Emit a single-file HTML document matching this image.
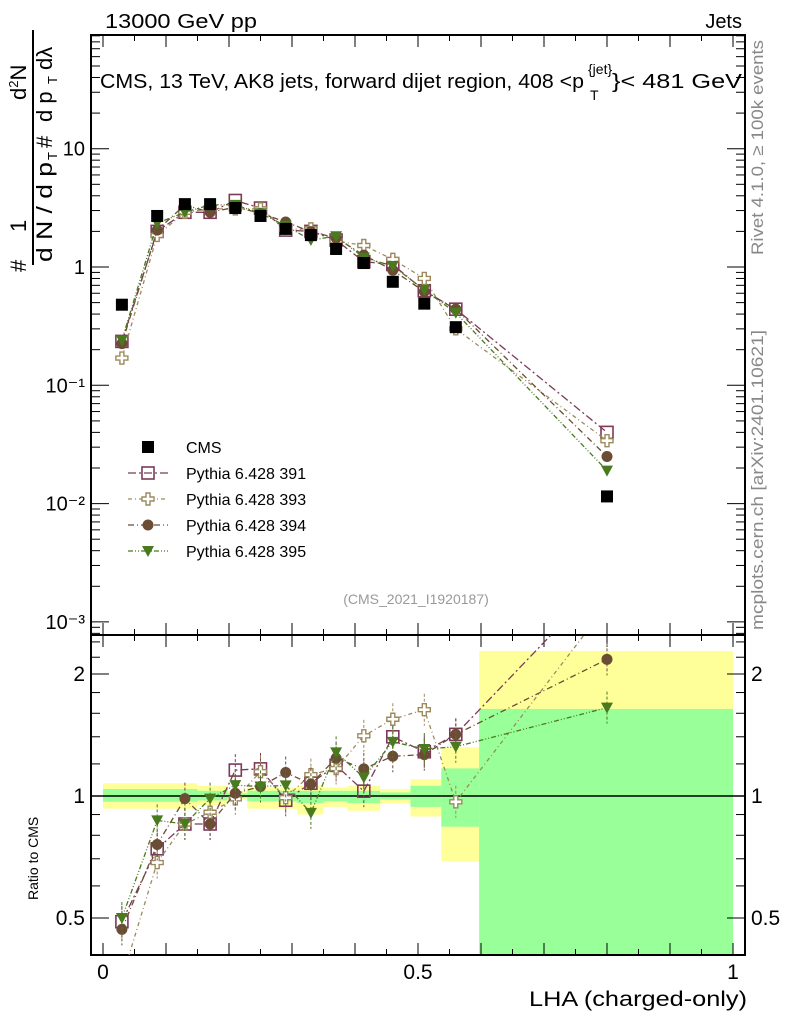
<!DOCTYPE html>
<html><head><meta charset="utf-8"><style>
body{margin:0;background:#fff;}
svg{display:block;font-family:"Liberation Sans",sans-serif;}
</style></head><body>
<svg id="chart" width="786" height="1024" viewBox="0 0 786 1024" xmlns="http://www.w3.org/2000/svg">
<g id="bands"></g>
<g id="axes"></g>
<g id="series"></g>
<text x="105" y="28" font-size="20" textLength="152" lengthAdjust="spacingAndGlyphs">13000 GeV pp</text>
<text x="742" y="28" font-size="20" text-anchor="end">Jets</text>
<g font-size="20">
<text x="100" y="88" textLength="484" lengthAdjust="spacingAndGlyphs">CMS, 13 TeV, AK8 jets, forward dijet region, 408 &lt;p</text>
<text x="588" y="74" font-size="14">{jet}</text>
<text x="590" y="100" font-size="14">T</text>
<text x="612" y="88" textLength="130" lengthAdjust="spacingAndGlyphs">}&lt; 481 GeV</text>
</g>
<text x="416" y="604" font-size="14" fill="#999" text-anchor="middle">(CMS_2021_I1920187)</text>
<text transform="translate(763,255) rotate(-90)" font-size="17" fill="#888" textLength="215" lengthAdjust="spacingAndGlyphs">Rivet 4.1.0, ≥ 100k events</text>
<text transform="translate(763,630) rotate(-90)" font-size="17" fill="#888" textLength="300" lengthAdjust="spacingAndGlyphs">mcplots.cern.ch [arXiv:2401.10621]</text>
<text x="747" y="1006" font-size="21" text-anchor="end" textLength="218" lengthAdjust="spacingAndGlyphs">LHA (charged-only)</text>
<text transform="translate(38,900) rotate(-90)" font-size="14">Ratio to CMS</text>
<g font-size="22">
<text transform="translate(26,272) rotate(-90)">#</text>
<text transform="translate(26,232) rotate(-90)">1</text>
<line x1="33" y1="265" x2="33" y2="30" stroke="#000" stroke-width="2"/>
<text transform="translate(52,262) rotate(-90)" textLength="100" lengthAdjust="spacingAndGlyphs">d N / d p</text>
<text transform="translate(57,160) rotate(-90)" font-size="13">T</text>
<text transform="translate(52,148) rotate(-90)">#</text>
<text transform="translate(26,100) rotate(-90)">d<tspan font-size="13" dy="-8">2</tspan><tspan dy="8">N</tspan></text>
<text transform="translate(52,122) rotate(-90)">d p</text>
<text transform="translate(57,84) rotate(-90)" font-size="13">T</text>
<text transform="translate(52,70) rotate(-90)">dλ</text>
</g>
<g id="legend"></g>
</svg>
<script>
const xCenters=[0.03,0.086,0.13,0.17,0.21,0.25,0.29,0.33,0.37,0.414,0.46,0.51,0.56,0.8];
const cms=[0.48,2.7,3.4,3.4,3.15,2.7,2.1,1.86,1.42,1.08,0.75,0.49,0.31,0.0115];
const mc391=[0.235,2.0,2.9,2.9,3.65,3.15,2.05,2.0,1.69,1.11,1.05,0.63,0.44,0.040];
const mc393=[0.17,1.85,2.9,3.1,3.1,3.1,2.08,2.1,1.66,1.52,1.16,0.80,0.30,0.034];
const mc394=[0.225,2.05,3.35,2.9,3.2,2.85,2.4,1.99,1.76,1.26,0.94,0.62,0.44,0.025];
const mc395=[0.24,2.35,2.9,3.35,3.35,2.85,2.23,1.69,1.82,1.2,1.02,0.64,0.41,0.019];
const bandEdges=[0,0.15,0.198,0.229,0.308,0.35,0.388,0.44,0.488,0.537,0.597,1.0];
const yellowHi=[1.075,1.06,1.03,1.05,1.06,1.05,1.06,1.04,1.10,1.32,2.28];
const yellowLo=[0.93,0.95,0.98,0.93,0.90,0.94,0.92,0.96,0.89,0.69,0.3];
const greenHi=[1.04,1.03,1.015,1.03,1.03,1.03,1.03,1.02,1.06,1.17,1.64];
const greenLo=[0.968,0.975,0.99,0.97,0.96,0.97,0.96,0.98,0.94,0.84,0.3];
const xTicks=[0,0.5,1];
const ratioTicks=[0.5,1,2];
const mainTicks=[0.001,0.01,0.1,1,10];
const mainTickLabels=["10\u207B\u00B3","10\u207B\u00B2","10\u207B\u00B9","1","10"];

const NS="http://www.w3.org/2000/svg";
const L=91,R=745,MT=35,MB=635,RB=955;
const X=v=>103+630*v;
const Y=v=>267-118.3*Math.log10(v);
const YR=r=>796-122*Math.log2(r);
function mk(tag,attrs,parent){const e=document.createElementNS(NS,tag);for(const k in attrs)e.setAttribute(k,attrs[k]);parent.appendChild(e);return e;}
const bands=document.getElementById('bands'),axes=document.getElementById('axes'),series=document.getElementById('series'),legend=document.getElementById('legend');
const clampR=y=>Math.max(MB,Math.min(RB,y));
for(let i=0;i<bandEdges.length-1;i++){
  const x1=X(bandEdges[i]),x2=X(bandEdges[i+1]);
  let e=mk('rect',{x:x1,y:clampR(YR(yellowHi[i])),width:x2-x1,height:clampR(YR(yellowLo[i]))-clampR(YR(yellowHi[i])),fill:'#ffff99'},bands);
  
  
  e=mk('rect',{x:x1,y:clampR(YR(greenHi[i])),width:x2-x1,height:clampR(YR(greenLo[i]))-clampR(YR(greenHi[i])),fill:'#99ff99'},bands);
  
  
}
mk('rect',{x:L,y:MT,width:R-L,height:MB-MT,fill:'none',stroke:'#000','stroke-width':2},axes);
mk('rect',{x:L,y:MB,width:R-L,height:RB-MB,fill:'none',stroke:'#000','stroke-width':2},axes);
mk('line',{x1:L,x2:R,y1:YR(1),y2:YR(1),stroke:'#000','stroke-width':1.5},axes);
for(let v=0;v<=1.0001;v+=0.05){
  const big=Math.abs(v*10-Math.round(v*10))<1e-6;const h=big?12:6;
  for(const [yb,d] of [[RB,-1],[MB,-1],[MT,1]]){
    mk('line',{x1:X(v),x2:X(v),y1:yb,y2:yb+d*h,stroke:'#000','stroke-width':1},axes);
  }
  mk('line',{x1:X(v),x2:X(v),y1:MB,y2:MB+h,stroke:'#000','stroke-width':1},axes);
}
xTicks.forEach(v=>{const t=mk('text',{x:X(v),y:979,'font-size':21,'text-anchor':'middle'},axes);t.textContent=String(v);

});
for(let d=-4;d<=1;d++){for(let m=1;m<10;m++){const v=m*Math.pow(10,d);const y=Y(v);if(y<MT||y>MB)continue;const h=m==1?18:9;
  mk('line',{x1:L,x2:L+h,y1:y,y2:y,stroke:'#000','stroke-width':1},axes);
  mk('line',{x1:R,x2:R-h,y1:y,y2:y,stroke:'#000','stroke-width':1},axes);}}
mainTicks.forEach((v,i)=>{const t=mk('text',{x:L-6,y:Y(v)+7,'font-size':20,'text-anchor':'end'},axes);t.textContent=mainTickLabels[i];

});
[0.5,0.6,0.7,0.8,0.9,1,1.2,1.4,1.6,1.8,2,2.2,2.4].forEach(v=>{const y=YR(v);const h=ratioTicks.includes(v)?18:9;
  mk('line',{x1:L,x2:L+h,y1:y,y2:y,stroke:'#000','stroke-width':1},axes);
  mk('line',{x1:R,x2:R-h,y1:y,y2:y,stroke:'#000','stroke-width':1},axes);});
ratioTicks.forEach(v=>{for(const [x,a] of [[L-6,'end'],[R+6,'start']]){const t=mk('text',{x:x,y:YR(v)+7,'font-size':21,'text-anchor':a},axes);t.textContent=String(v);

}});
const defs=mk('defs',{},document.getElementById('chart'));
const c1=mk('clipPath',{id:'cm'},defs);mk('rect',{x:L,y:MT,width:R-L,height:MB-MT},c1);
const c2=mk('clipPath',{id:'cr'},defs);mk('rect',{x:L,y:MB,width:R-L,height:RB-MB},c2);
function marker(kind,color,x,y,g){
  if(kind=='sq')return mk('rect',{x:x-6,y:y-6,width:12,height:12,fill:'none',stroke:color,'stroke-width':1.6},g);
  if(kind=='cross')return mk('path',{d:`M${x-2},${y-6}h4v4h4v4h-4v4h-4v-4h-4v-4h4z`,fill:'#fff',stroke:color,'stroke-width':1.4},g);
  if(kind=='circ')return mk('circle',{cx:x,cy:y,r:5.5,fill:color},g);
  if(kind=='tri')return mk('path',{d:`M${x-6},${y-5}h12l-6,11z`,fill:color},g);
  if(kind=='cms')return mk('rect',{x:x-6,y:y-6,width:12,height:12,fill:'#000'},g);
}
const mcs=[['391',mc391,'#7b3a5a','sq','8,3,2,3'],['393',mc393,'#9c8a5e','cross','4,3,1,3'],['394',mc394,'#6b4c35','circ','6,3,1,3'],['395',mc395,'#4a7a1e','tri','5,2,1,2,1,2']];
mcs.forEach(([nm,vals,col,kind,dash])=>{
  const gm=mk('g',{'clip-path':'url(#cm)'},series);
  
  
  mk('polyline',{points:vals.map((v,i)=>X(xCenters[i])+','+Y(v)).join(' '),fill:'none',stroke:col,'stroke-width':1.3,'stroke-dasharray':dash},gm);
  const gr=mk('g',{'clip-path':'url(#cr)'},series);
  
  
  mk('polyline',{points:vals.map((v,i)=>X(xCenters[i])+','+YR(v/cms[i])).join(' '),fill:'none',stroke:col,'stroke-width':1.3,'stroke-dasharray':dash},gr);
  vals.forEach((v,i)=>{const x=X(xCenters[i]);
    const yr=YR(v/cms[i]);
    mk('line',{x1:x,x2:x,y1:yr-16,y2:yr+16,stroke:col,'stroke-width':1,'stroke-dasharray':'3,2'},gr);
    marker(kind,col,x,Y(v),gm);marker(kind,col,x,yr,gr);});
});
const gc=mk('g',{'clip-path':'url(#cm)'},series);


cms.forEach((v,i)=>marker('cms','#000',X(xCenters[i]),Y(v),gc));
const leg=[['CMS','#000','cms',null],['Pythia 6.428 391','#7b3a5a','sq','8,3,2,3'],['Pythia 6.428 393','#9c8a5e','cross','4,3,1,3'],['Pythia 6.428 394','#6b4c35','circ','6,3,1,3'],['Pythia 6.428 395','#4a7a1e','tri','5,2,1,2,1,2']];
leg.forEach(([lab,col,kind,dash],i)=>{const y=447+26*i;
  const g=mk('g',{},legend);
  
  
  if(dash)mk('line',{x1:128,x2:168,y1:y,y2:y,stroke:col,'stroke-width':1.3,'stroke-dasharray':dash},g);
  marker(kind,col,148,y,g);
  const t=mk('text',{x:186,y:y+6,'font-size':16},g);t.textContent=lab;});
</script>
</body></html>
